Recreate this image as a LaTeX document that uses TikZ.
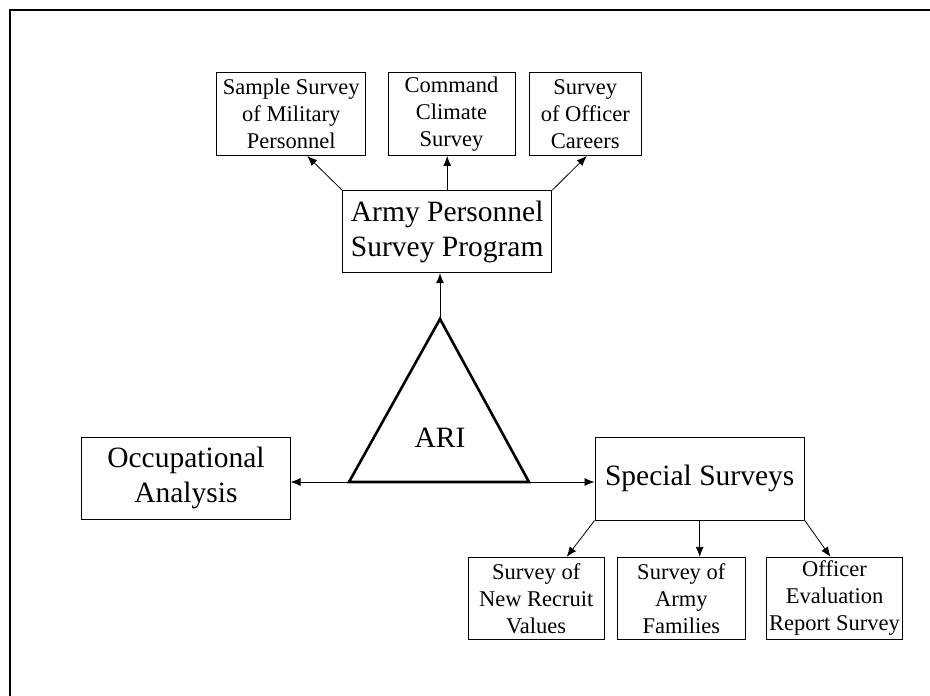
\documentclass[tikz,border=0pt]{standalone}
\usepackage{fontspec}
\setmainfont{Liberation Serif}
\usetikzlibrary{arrows.meta}
\begin{document}
\begin{tikzpicture}[x=1pt,y=-1pt,
  smallbox/.style={draw, line width=0.9pt, inner sep=0pt, align=center,
    font=\fontsize{22.5}{27}\selectfont},
  bigbox/.style={draw, line width=1pt, inner sep=0pt, align=center,
    font=\fontsize{29.5}{35}\selectfont},
  conn/.style={line width=0.8pt, -{Latex[length=10pt,width=8pt]}}]
\useasboundingbox (0,0) rectangle (930,696);
\draw[line width=2.2pt] (10,696) -- (10,10) -- (930,10);

\node[smallbox, minimum width=149pt, minimum height=83pt] (samp) at (291.2,114) {Sample Survey\\of Military\\Personnel};
\node[smallbox, minimum width=127pt, minimum height=83pt] (cmd) at (451.5,114) {Command\\Climate\\Survey};
\node[smallbox, minimum width=112.6pt, minimum height=83pt] (offc) at (585.3,114) {Survey\\of Officer\\Careers};
\node[bigbox, minimum width=209pt, minimum height=82pt] (apsp) at (447.2,231.7) {Army Personnel\\Survey Program};

\coordinate (apex) at (440,319);
\coordinate (bl) at (349,482);
\coordinate (br) at (529,482);
\draw[line width=2.6pt, line join=miter] (apex) -- (br) -- (bl) -- cycle;
\node[font=\fontsize{29.5}{35}\selectfont, inner sep=0pt] (ari) at (440,438) {ARI};

\node[bigbox, minimum width=208.3pt, minimum height=82pt] (occ) at (185.9,478.3) {Occupational\\Analysis};
\node[bigbox, minimum width=209.3pt, minimum height=82.7pt] (ss) at (699.7,478.7) {Special Surveys};

\node[smallbox, minimum width=135.7pt, minimum height=82pt] (nrv) at (536.2,598.3) {Survey of\\New Recruit\\Values};
\node[smallbox, minimum width=127.3pt, minimum height=82pt] (fam) at (681.3,598.3) {Survey of\\Army\\Families};
\node[smallbox, minimum width=135.6pt, minimum height=82pt] (oer) at (834.5,598.3) {Officer\\Evaluation\\Report Survey};

\draw[conn] (apsp.north west) -- ([xshift=16pt]samp.south);
\draw[conn] (apsp.north) -- (apsp.north |- cmd.south);
\draw[conn] (apsp.north east) -- ([xshift=1.5pt]offc.south);
\draw[conn] (apex) -- (apex |- apsp.south);
\draw[conn] (bl) -- (bl -| occ.east);
\draw[conn] (br) -- (br -| ss.west);
\draw[conn] (ss.south west) -- ([xshift=30.5pt]nrv.north);
\draw[conn] (ss.south) -- (ss.south |- fam.north);
\draw[conn] (ss.south east) -- ([xshift=-4pt]oer.north);
\end{tikzpicture}
\end{document}
